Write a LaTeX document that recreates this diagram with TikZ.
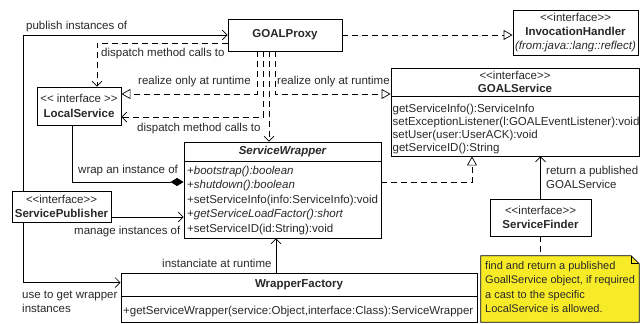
\documentclass[tikz,border=0pt]{standalone}
\usepackage{fontspec}
\setmainfont{Liberation Sans}
\usetikzlibrary{arrows.meta,calc}
\newcommand\fs{\fontsize{11.5}{14}\selectfont}
\newcommand\fsb{\fontsize{11.5}{13}\selectfont}
\newcommand\fsc{\fontsize{11.5}{15}\selectfont}
\newcommand\ltlt{<\kern0pt<}
\newcommand\gtgt{>\kern0pt>}
\definecolor{noteyellow}{RGB}{247,235,40}
\definecolor{txt}{RGB}{40,40,40}
\begin{document}
\begin{tikzpicture}[x=1pt,y=-1pt,
  box/.style={draw, line width=0.9pt, inner sep=0pt, font=\fs, text=txt},
  sepline/.style={line width=0.9pt},
  ln/.style={line width=0.7pt},
  dsh/.style={line width=0.7pt, dash pattern=on 6pt off 4pt},
  opena/.style={-{Straight Barb[length=5pt,width=10pt]}},
  tri/.style={-{Triangle[open,length=9pt,width=10pt,fill=white]}},
  dia/.style={-{Diamond[length=13pt,width=8pt]}},
  row/.style={anchor=base west, inner sep=0pt, font=\fs, text=txt},
  lbl/.style={anchor=base west, inner sep=0pt, font=\fs, text=txt},
]
\useasboundingbox (0,0) rectangle (640,324);

% ---------- boxes ----------
\node[box, minimum width=114pt, minimum height=32pt, font=\fs\bfseries] (proxy) at (285,35) {GOALProxy};

\node[box, minimum width=125pt, minimum height=45pt, align=center] (invh) at (575.5,32.5)
  {\ltlt interface\gtgt\\\textbf{InvocationHandler}\\\textit{(from:java::lang::reflect)}};

\node[box, minimum width=248pt, minimum height=88pt] (gsvc) at (515,112) {};
\path (gsvc.north west) ++(0,29) coordinate (gsep);
\draw[sepline] (gsep) -- (gsep -| gsvc.east);
\node[inner sep=0pt, align=center, font=\fsb, text=txt] (gsvct) at (515,82) {\ltlt interface\gtgt\\\textbf{GOALService}};
\node[row] (g1) at (392.5,112) {getServiceInfo():ServiceInfo};
\node[row] (g2) at (392.5,125) {setExceptionListener(l:GOALEventListener):void};
\node[row] (g3) at (392.5,138) {setUser(user:UserACK):void};
\node[row] (g4) at (392.5,151) {getServiceID():String};

\node[box, minimum width=84pt, minimum height=38pt, align=center, font=\fsc] (local) at (79,106)
  {\ltlt{} interface \gtgt\\\textbf{LocalService}};

\node[box, minimum width=197pt, minimum height=96pt] (wrapper) at (282.5,190) {};
\path (wrapper.north west) ++(0,20) coordinate (wsep);
\draw[sepline] (wsep) -- (wsep -| wrapper.east);
\node[inner sep=0pt, font=\fs\bfseries\itshape, text=txt] (wrappert) at (282.5,152) {ServiceWrapper};
\node[row] (w1) at (187,174) {+\textit{bootstrap():boolean}};
\node[row] (w2) at (187,188) {+\textit{shutdown():boolean}};
\node[row] (w3) at (187,203) {+setServiceInfo(info:ServiceInfo):void};
\node[row] (w4) at (187,217) {+\textit{getServiceLoadFactor():short}};
\node[row] (w5) at (187,232) {+setServiceID(id:String):void};

\node[box, minimum width=99pt, minimum height=31pt, align=center] (publisher) at (61.5,206.5)
  {\ltlt interface\gtgt\\\textbf{ServicePublisher}};

\node[box, minimum width=101pt, minimum height=37pt, align=center] (finder) at (540.5,217.5)
  {\ltlt interface\gtgt\\\textbf{ServiceFinder}};

\node[box, minimum width=356pt, minimum height=49pt] (factory) at (299,297.5) {};
\path (factory.north west) ++(0,24) coordinate (fsep);
\draw[sepline] (fsep) -- (fsep -| factory.east);
\node[inner sep=0pt, font=\fs\bfseries, text=txt] (factoryt) at (299,285) {WrapperFactory};
\node[row] (f1) at (123,314) {+getServiceWrapper(service:Object,interface:Class):ServiceWrapper};

% note
\node[inner sep=0pt, minimum width=158pt, minimum height=66pt] (note) at (560,289) {};
\filldraw[fill=noteyellow, line width=0.7pt]
  (note.north west) -- ([xshift=-8pt]note.north east) -- ([yshift=-8pt]note.north east)
  -- (note.south east) -- (note.south west) -- cycle;
\draw[line width=0.7pt] ([xshift=-8pt]note.north east) -- ([xshift=-8pt,yshift=-8pt]note.north east)
  -- ([yshift=-8pt]note.north east);
\node[anchor=north west, align=left, inner sep=0pt, font=\fontsize{11}{14.5}\selectfont, text=txt] (notetext) at (485,261)
  {find and return a published\\GoallService object, if required\\a cast to the specific\\LocalService is allowed.};

% ---------- connectors ----------
% publish instances of
\draw[ln,opena] ([xshift=12pt]publisher.north west) |- (proxy.west);
\node[lbl] (lpub) at (26,29) {publish instances of};

% use to get wrapper instances
\coordinate (fw) at ([yshift=-10pt]factory.north west);
\draw[ln,opena] ([xshift=12pt]publisher.south west) |- (fw);
\node[lbl, anchor=north west, align=left] (luse) at (22,291) {use to get wrapper\\instances};

% manage instances of
\coordinate (pm) at ([yshift=-10.5pt]publisher.east);
\draw[ln,opena] (pm) -- (pm -| wrapper.west);
\node[lbl] (lman) at (74,234) {manage instances of};

% wrap an instance of (composition)
\coordinate (ww) at ([yshift=8pt]wrapper.west);
\draw[ln,dia] ([xshift=-7pt]local.south) |- (ww);
\node[lbl] (lwrap) at (78,173) {wrap an instance of};

% dispatch method calls to (upper)
\coordinate (pdw) at ([yshift=-8pt]proxy.west);
\coordinate (ltop) at ([xshift=18pt]local.north);
\draw[dsh,opena] (pdw) -| (ltop);
\node[lbl] (ldis1) at (101,56) {dispatch method calls to};

% proxy realizes InvocationHandler
\draw[dsh,tri] (proxy.east) -- (proxy.east -| invh.west);

% four dashed lines from proxy
\coordinate (pa) at ([xshift=-28pt]proxy.south);
\coordinate (pb) at ([xshift=-22pt]proxy.south);
\coordinate (pc) at ([xshift=-16pt]proxy.south);
\coordinate (pd) at ([xshift=-10pt]proxy.south);
\coordinate (lr) at ([yshift=12pt]local.east);
\coordinate (ld) at ([yshift=-11pt]local.east);
\draw[dsh,tri] (pa) |- (lr);
\draw[dsh,tri] (pd) |- (lr -| gsvc.west);
\draw[dsh,opena] (pb) |- (ld);
\draw[dsh,opena] (pc) -- (pc |- wrapper.north);
\node[lbl] (lrel1) at (138,84) {realize only at runtime};
\node[lbl] (lrel2) at (277,84) {realize only at runtime};
\node[lbl] (ldis2) at (137,131) {dispatch method calls to};

% wrapper realizes GOALService
\coordinate (we) at ([yshift=8pt]wrapper.east);
\coordinate (gs) at ([xshift=-43pt]gsvc.south);
\draw[dsh,tri] (we) -| (gs);

% finder returns GOALService
\draw[ln,opena] (finder.north) -- (finder.north |- gsvc.south);
\node[lbl, anchor=north west, align=left] (lret) at (546,166) {return a published\\GOALService};

% finder to note
\draw[dsh] (finder.south) -- (finder.south |- note.north);

% factory instanciates wrapper
\coordinate (ft) at ([xshift=-23pt]factory.north);
\draw[ln,opena] (ft) -- (ft |- wrapper.south);
\node[lbl] (linst) at (162,267) {instanciate at runtime};
\end{tikzpicture}
\end{document}
